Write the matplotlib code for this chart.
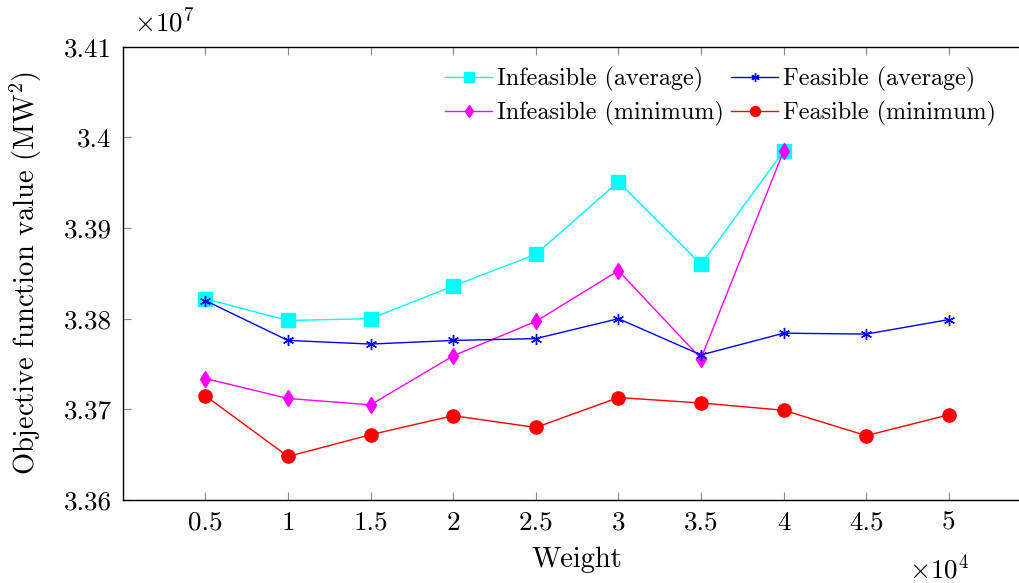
import matplotlib
matplotlib.use("Agg")
import matplotlib.pyplot as plt

weights = [0.5, 1, 1.5, 2, 2.5, 3, 3.5, 4, 4.5, 5]
infeas_avg = [3.3822, 3.3798, 3.3800, 3.3836, 3.3871, 3.3951, 3.3860, 3.3985]
infeas_min = [3.3734, 3.3712, 3.3705, 3.3759, 3.3797, 3.3853, 3.3756, 3.3985]
feas_avg = [3.3820, 3.3776, 3.3772, 3.3776, 3.3778, 3.3800, 3.3760, 3.3784, 3.3783, 3.3799]
feas_min = [3.3715, 3.3648, 3.3672, 3.3693, 3.3680, 3.3713, 3.3707, 3.3699, 3.3671, 3.3694]

xticks = [0.5, 1, 1.5, 2, 2.5, 3, 3.5, 4, 4.5, 5]
xticklabels = ["0.5", "1", "1.5", "2", "2.5", "3", "3.5", "4", "4.5", "5"]
yticks = [3.36, 3.37, 3.38, 3.39, 3.40, 3.41]
yticklabels = ["3.36", "3.37", "3.38", "3.39", "3.4", "3.41"]

plt.rcParams['font.family'] = ['cmr10', 'DejaVu Serif']
plt.rcParams['mathtext.fontset'] = 'cm'
plt.rcParams['axes.formatter.use_mathtext'] = True

W, H = 1019, 583
fig = plt.figure(figsize=(W / 100, H / 100), dpi=100)
left, right, top, bottom = 122.7, 1031.5, 46.7, 500.0
ax = fig.add_axes([left / W, (H - bottom) / H, (right - left) / W, (bottom - top) / H])

n_inf = len(infeas_avg)
ax.plot(weights[:n_inf], infeas_avg, color='#00FFFF', lw=1.0, marker='s', ms=10,
        label='Infeasible (average)')
ax.plot(weights[:n_inf], infeas_min, color='#FF00FF', lw=1.0, marker='d', ms=8,
        label='Infeasible (minimum)')
ax.plot(weights, feas_avg, color='#0000FF', lw=1.0, marker=(6, 2, 0), ms=8, mew=1.0,
        label='Feasible (average)')
ax.plot(weights, feas_min, color='#FF0000', lw=1.0, marker='o', ms=9.5,
        label='Feasible (minimum)')

ax.set_xlim(0, 5.5)
ax.set_ylim(3.36, 3.41)
ax.set_xticks(xticks)
ax.set_xticklabels(xticklabels)
ax.set_yticks(yticks)
ax.set_yticklabels(yticklabels)
ax.tick_params(direction='in', length=6, width=0.8, color='#888888', labelsize=19.5,
               top=True, right=True, pad=8)
for s in ax.spines.values():
    s.set_linewidth(1.0)

ax.set_xlabel('Weight', fontsize=20.5)
ax.set_ylabel(r'Objective function value (MW$^2$)', fontsize=20.5)
ax.xaxis.set_label_coords((577 - left) / (right - left), (bottom - 560) / (bottom - top))
ax.yaxis.set_label_coords((26 - left) / (right - left), (bottom - 273) / (bottom - top))
ax.xaxis.label.set_va('center')
ax.yaxis.label.set_va('center')
ax.yaxis.label.set_ha('center')

fig.text(134 / W, 1 - 21 / H, r'$\times10^7$', fontsize=19.5, va='center', ha='left')
fig.text(909 / W, 1 - 568 / H, r'$\times10^4$', fontsize=19.5, va='center', ha='left')

leg = ax.legend(loc='upper left',
                bbox_to_anchor=((445 - left) / (right - left), 1 - (67 - top) / (bottom - top)),
                ncol=2, frameon=False, fontsize=17.4, handlelength=1.95, handletextpad=0.2,
                columnspacing=0.3, labelspacing=0.36, borderaxespad=0, borderpad=0,
                markerscale=0.75)

fig.savefig('out.png', dpi=100)
